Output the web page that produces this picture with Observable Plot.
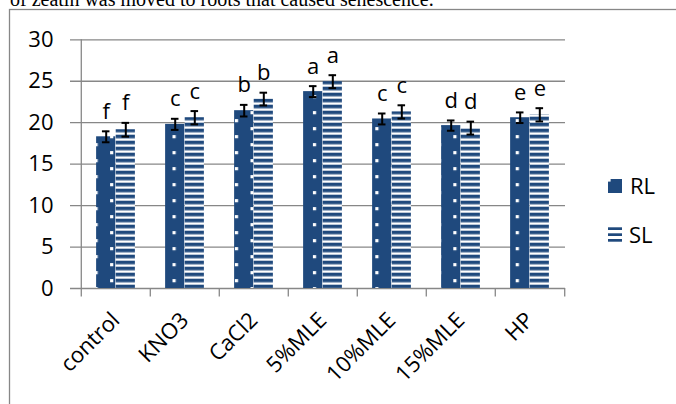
<!DOCTYPE html>
<html><head><meta charset="utf-8">
<script src="https://cdn.jsdelivr.net/npm/d3@7"></script>
<script src="https://cdn.jsdelivr.net/npm/@observablehq/plot@0.6"></script>
<style>
html,body{margin:0;padding:0;background:#fff;}
#wrap{position:relative;width:676px;height:404px;overflow:hidden;background:#fff;}
#wrap svg{position:absolute;left:0;top:0;}
</style></head><body><div id="wrap"></div>
<script>
// ---- data ----
const categories = ["control","KNO3","CaCl2","5%MLE","10%MLE","15%MLE","HP"];
const rlValues = [18.3, 19.8, 21.45, 23.75, 20.45, 19.65, 20.6];
const slValues = [19.15, 20.6, 22.85, 24.95, 21.3, 19.35, 20.95];
const rlErrors = [0.66, 0.67, 0.7, 0.66, 0.66, 0.62, 0.64];
const slErrors = [0.83, 0.8, 0.77, 0.78, 0.8, 0.78, 0.8];
const rlLetters = ["f","c","b","a","c","d","e"];
const slLetters = ["f","c","b","a","c","d","e"];
const yTicks = [0, 5, 10, 15, 20, 25, 30];
const seriesNames = ["RL", "SL"];
const captionText = "of zeatin was moved to roots that caused senescence.";

const rows = categories.map((c, i) => ({
  category: c, rl: rlValues[i], sl: slValues[i],
  rlErr: rlErrors[i], slErr: slErrors[i],
  rlLetter: rlLetters[i], slLetter: slLetters[i]
}));

// ---- layout ----
const W = 676, H = 404, mL = 79, mR = 111, mT = 39.3, mB = 116;
const step = (W - mL - mR) / categories.length;
const barW = 19.6, off = barW / 2, capW = 8;
const blue = "#1F497D", grid = "#878787";
const font = "'Open Sans', sans-serif";
const fs = 22;

const plot = Plot.plot({
  width: W, height: H, marginLeft: mL, marginRight: mR, marginTop: mT, marginBottom: mB,
  style: {fontFamily: font, fontSize: fs + "px", color: "#000", background: "transparent", overflow: "visible"},
  x: {type: "band", domain: categories, padding: 0, tickSize: 0, tickPadding: 28, tickRotate: -45, label: null},
  y: {domain: [0, 30], ticks: yTicks, tickSize: 0, tickPadding: 26, label: null},
  marks: [
    Plot.ruleY(yTicks, {stroke: grid, strokeWidth: 1.3, insetLeft: -9}),
    Plot.ruleX([categories[0]], {x: d => d, dx: -step / 2, stroke: grid, strokeWidth: 1.3}),
    Plot.ruleX(categories, {x: d => d, dx: -step / 2, y1: 0, y2: 0, insetBottom: -8.5, stroke: grid, strokeWidth: 1.3}),
    Plot.ruleX([categories[categories.length - 1]], {x: d => d, dx: step / 2, y1: 0, y2: 0, insetBottom: -8.5, stroke: grid, strokeWidth: 1.3}),
    Plot.barY(rows, {x: "category", y: "rl", fill: "url(#rl-dots)", insetLeft: step / 2 - barW, insetRight: step / 2}),
    Plot.barY(rows, {x: "category", y: "sl", fill: "url(#sl-stripes)", insetLeft: step / 2, insetRight: step / 2 - barW}),
    Plot.ruleX(rows, {x: "category", y1: d => d.rl - d.rlErr, y2: d => d.rl + d.rlErr, dx: -off, stroke: "#000", strokeWidth: 2}),
    Plot.ruleX(rows, {x: "category", y1: d => d.sl - d.slErr, y2: d => d.sl + d.slErr, dx: off, stroke: "#000", strokeWidth: 2}),
    Plot.tickY(rows, {x: "category", y: d => d.rl + d.rlErr, dx: -off, insetLeft: (step - capW) / 2, insetRight: (step - capW) / 2, stroke: "#000", strokeWidth: 2}),
    Plot.tickY(rows, {x: "category", y: d => d.rl - d.rlErr, dx: -off, insetLeft: (step - capW) / 2, insetRight: (step - capW) / 2, stroke: "#000", strokeWidth: 2}),
    Plot.tickY(rows, {x: "category", y: d => d.sl + d.slErr, dx: off, insetLeft: (step - capW) / 2, insetRight: (step - capW) / 2, stroke: "#000", strokeWidth: 2}),
    Plot.tickY(rows, {x: "category", y: d => d.sl - d.slErr, dx: off, insetLeft: (step - capW) / 2, insetRight: (step - capW) / 2, stroke: "#000", strokeWidth: 2}),
    Plot.text(rows, {x: "category", y: d => d.rl + d.rlErr, text: "rlLetter", dx: -off, dy: -12.5, lineAnchor: "bottom", fontSize: fs, fill: "#000"}),
    Plot.text(rows, {x: "category", y: d => d.sl + d.slErr, text: "slLetter", dx: off, dy: -12.5, lineAnchor: "bottom", fontSize: fs, fill: "#000"})
  ]
});

// patterns
const defs = d3.select(plot).insert("defs", ":first-child");
const p1 = defs.append("pattern").attr("id", "rl-dots").attr("patternUnits", "userSpaceOnUse")
  .attr("x", 110.1).attr("y", 151.1).attr("width", 31.2).attr("height", 16);
p1.append("rect").attr("width", 31.2).attr("height", 16).attr("fill", blue);
p1.append("rect").attr("x", 0).attr("y", 0).attr("width", 3.2).attr("height", 3.2).attr("fill", "#fff");
p1.append("rect").attr("x", 15.6).attr("y", 8).attr("width", 3.2).attr("height", 3.2).attr("fill", "#fff");
const p2 = defs.append("pattern").attr("id", "sl-stripes").attr("patternUnits", "userSpaceOnUse")
  .attr("x", 0).attr("y", 152.7).attr("width", 10).attr("height", 6);
p2.append("rect").attr("width", 10).attr("height", 6).attr("fill", "#fff");
p2.append("rect").attr("width", 10).attr("height", 3.6).attr("fill", blue);

const wrap = document.getElementById("wrap");
wrap.appendChild(plot);

// overlay: caption above, outer frame, legend
const ov = d3.select(wrap).append("svg").attr("width", W).attr("height", H).style("pointer-events", "none");
ov.append("text").attr("x", 10).attr("y", 5.5).attr("font-family", "'Liberation Serif', 'Times New Roman', serif")
  .attr("font-size", 20).attr("fill", "#000").text(captionText);
ov.append("rect").attr("x", 9.5).attr("y", 9.5).attr("width", 700).attr("height", 500)
  .attr("fill", "none").attr("stroke", grid).attr("stroke-width", 1.3);
const lg = ov.append("g");
lg.append("rect").attr("x", 608).attr("y", 179).attr("width", 14).attr("height", 14).attr("fill", blue);
lg.append("rect").attr("x", 608).attr("y", 179).attr("width", 2.6).attr("height", 2.6).attr("fill", "#fff");
[227.3, 233.3, 239].forEach(y => lg.append("rect").attr("x", 608).attr("y", y).attr("width", 14).attr("height", 2.7).attr("fill", blue));
lg.append("text").attr("x", 630).attr("y", 194).attr("font-family", font).attr("font-size", fs).attr("fill", "#000").text(seriesNames[0]);
lg.append("text").attr("x", 629).attr("y", 243).attr("font-family", font).attr("font-size", fs).attr("fill", "#000").text(seriesNames[1]);
</script></body></html>
